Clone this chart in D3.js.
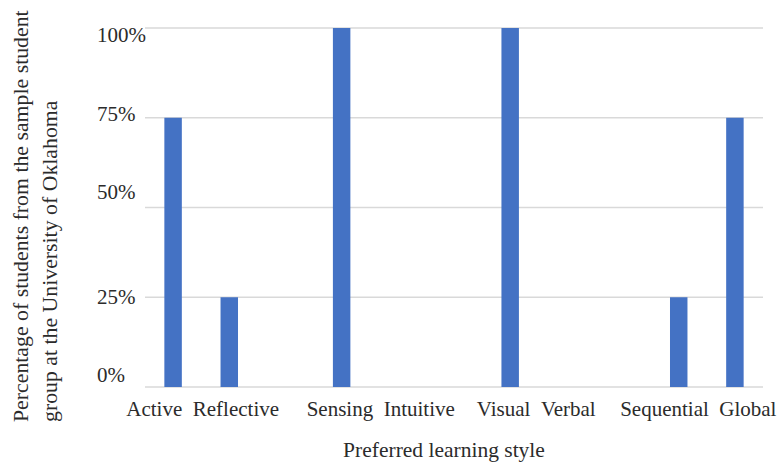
<!DOCTYPE html>
<html>
<head>
<meta charset="utf-8">
<script src="https://cdn.jsdelivr.net/npm/d3@7"></script>
<style>
  html, body { margin: 0; padding: 0; background: #fff; }
  svg { display: block; }
  text { font-family: "Liberation Serif", "Times New Roman", serif; fill: #2b2b2b; }
</style>
</head>
<body>
<svg id="chart" width="782" height="470"></svg>
<script>
// ---- data ----
const categories = ["Active", "Reflective", "Sensing", "Intuitive", "Visual", "Verbal", "Sequential", "Global"];
const values = [75, 25, 100, 0, 100, 0, 25, 75];
const dimensions = [["Active", "Reflective"], ["Sensing", "Intuitive"], ["Visual", "Verbal"], ["Sequential", "Global"]];
const yTicks = [0, 25, 50, 75, 100];
const yTickLabels = ["0%", "25%", "50%", "75%", "100%"];
const xTitle = "Preferred learning style";
const yTitleLines = ["Percentage of students from the sample student", "group at the University of Oklahoma"];

// ---- layout ----
const W = 782, H = 470;
const plot = { left: 145, right: 763, top: 28, bottom: 387 };
const fontSize = 21;
// text-box style placement of labels relative to their gridlines / bar pairs
const yLabelDy = { 0: -5, 25: 7, 50: -9, 75: 3.5, 100: 13.5 };
const pairLabelDx = [1.5, 11, -2, -8.5];

const svg = d3.select("#chart");

// band domain: pairs separated by an empty slot
const domain = [];
dimensions.forEach((pair, i) => {
  if (i > 0) domain.push("__gap" + i);
  pair.forEach(c => domain.push(c));
});

const pad = 0.689;
const x = d3.scaleBand().domain(domain).range([plot.left, plot.right])
  .paddingInner(pad).paddingOuter(pad / 2);
const y = d3.scaleLinear().domain([0, 100]).range([plot.bottom, plot.top]);

// gridlines
svg.append("g").selectAll("line").data(yTicks).join("line")
  .attr("x1", plot.left).attr("x2", plot.right)
  .attr("y1", d => y(d)).attr("y2", d => y(d))
  .attr("stroke", "#d9d9d9").attr("stroke-width", 1.3);

// y tick labels (left aligned)
svg.append("g").selectAll("text").data(yTicks).join("text")
  .attr("x", 97).attr("y", d => y(d) + yLabelDy[d])
  .attr("font-size", fontSize)
  .text((d, i) => yTickLabels[i]);

// bars
svg.append("g").selectAll("rect").data(categories).join("rect")
  .attr("x", d => x(d))
  .attr("width", x.bandwidth())
  .attr("y", (d, i) => y(values[i]))
  .attr("height", (d, i) => y(0) - y(values[i]))
  .attr("fill", "#4472C4");

// x labels: each dimension pair as one line centered under its two bars
svg.append("g").selectAll("text").data(dimensions).join("text")
  .attr("x", (p, i) => (x(p[0]) + x(p[1]) + x.bandwidth()) / 2 + pairLabelDx[i])
  .attr("y", 416)
  .attr("text-anchor", "middle")
  .attr("font-size", fontSize)
  .style("white-space", "pre")
  .text(p => p.join("\u2002"));

// x title
svg.append("text")
  .attr("x", 444)
  .attr("y", 457)
  .attr("text-anchor", "middle")
  .attr("font-size", 21.5)
  .text(xTitle);

// y title, two lines, rotated, starting at the bottom
const yt = svg.append("g").attr("transform", "translate(28,422) rotate(-90)");
yt.selectAll("text").data(yTitleLines).join("text")
  .attr("x", 0).attr("y", (d, i) => i * 28.5)
  .attr("font-size", 21.8)
  .text(d => d);
</script>
</body>
</html>
